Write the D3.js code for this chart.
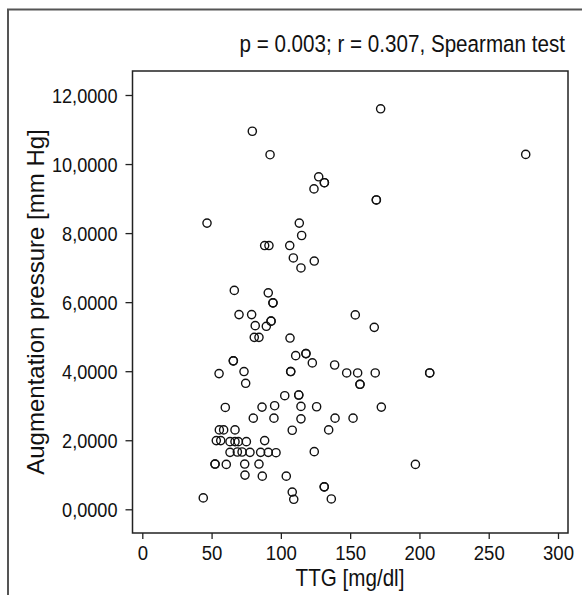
<!DOCTYPE html>
<html><head><meta charset="utf-8">
<script src="https://cdn.jsdelivr.net/npm/d3@7"></script>
<style>html,body{margin:0;padding:0;background:#fff;}svg{display:block;}</style>
</head><body>
<script>
// Data (TTG [mg/dl], Augmentation pressure [mm Hg])
const ttg = [79.4,92.2,172,276.7,127.3,131.4,131.4,123.9,168.9,168.9,46.7,113.3,115,88.3,91.4,106.4,109,124.1,114.5,
  66.4,90.9,94.3,94.3,69.8,78.9,153.7,81.5,89.5,92.9,92.9,167.4,80.8,84.2,106.6,65.7,65.7,110.7,118.1,118.1,122.7,138.8,
  55.4,73.4,74.6,107.1,107.1,147.5,155.4,168.1,207.4,207.4,157.1,157.1,102.8,112.9,112.9,59.9,86.4,95.5,114.5,125.8,172.5,
  80.1,95,114.5,139.1,152.1,55.6,58.7,66.9,108.2,134.5,53.4,56.6,63.3,66.9,69.3,75.1,88.3,63.3,68.6,72,77.7,85.4,90.9,96.5,124.1,
  52.5,52.5,60.6,73.9,84.2,197.1,74.1,86.6,103.9,131.3,131.3,108.2,109.3,44,136.4];
const augP = [10.95,10.27,11.60,10.28,9.63,9.46,9.46,9.28,8.96,8.96,8.29,8.29,7.93,7.64,7.64,7.64,7.28,7.19,6.99,
  6.34,6.27,5.98,5.98,5.64,5.64,5.63,5.32,5.30,5.45,5.45,5.27,4.98,4.98,4.96,4.30,4.30,4.45,4.51,4.51,4.24,4.18,
  3.93,3.99,3.65,3.99,3.99,3.95,3.95,3.95,3.95,3.95,3.62,3.62,3.29,3.31,3.31,2.95,2.96,3.00,2.98,2.97,2.96,
  2.64,2.64,2.62,2.64,2.64,2.30,2.30,2.30,2.29,2.30,1.99,1.99,1.96,1.96,1.96,1.96,1.99,1.65,1.66,1.66,1.65,1.65,1.65,1.64,1.67,
  1.31,1.31,1.30,1.31,1.31,1.30,0.99,0.96,0.96,0.65,0.65,0.50,0.29,0.33,0.30];
const xTicks = [0,50,100,150,200,250,300];
const yTicks = [0,2,4,6,8,10,12];
const yTickLabels = ["0,0000","2,0000","4,0000","6,0000","8,0000","10,0000","12,0000"];
const title = "p = 0.003; r = 0.307, Spearman test";
const xTitle = "TTG [mg/dl]";
const yTitle = "Augmentation pressure [mm Hg]";

const W = 582, H = 595;
const font = "'Liberation Sans',Arial,Helvetica,sans-serif";
const K = 0.885; // horizontal condensing of the Helvetica-like face
const box = {left:132.5, right:568, top:71, bottom:533};

const svg = d3.select("body").append("svg").attr("width",W).attr("height",H);

// outer frame
svg.append("path").attr("d",`M8,${H} L8,9.5 L${W},9.5`).attr("fill","none").attr("stroke","#555").attr("stroke-width",2);

const x = d3.scaleLinear().domain([0,300]).range([142.3,558]);
const y = d3.scaleLinear().domain([0,12]).range([509.3,95]);

// plot box
svg.append("rect").attr("x",box.left).attr("y",box.top).attr("width",box.right-box.left).attr("height",box.bottom-box.top)
  .attr("fill","none").attr("stroke","#222").attr("stroke-width",1.5);

const xAxis = svg.append("g").attr("transform",`translate(0,${box.bottom})`)
  .call(d3.axisBottom(x).tickValues(xTicks).tickSize(6).tickFormat(d3.format("d")));
xAxis.select(".domain").remove();
xAxis.selectAll(".tick text").attr("y",27.5).attr("dy",null)
  .attr("font-size",21).attr("transform",`scale(${K},1)`);

const yAxis = svg.append("g").attr("transform",`translate(${box.left},0)`)
  .call(d3.axisLeft(y).tickValues(yTicks).tickSize(7).tickFormat((d,i)=>yTickLabels[i]));
yAxis.select(".domain").remove();
yAxis.selectAll(".tick text").attr("x",-15/K).attr("dy","0.36em")
  .attr("font-size",20.5).attr("transform",`scale(${K},1)`);

svg.selectAll(".tick line").attr("stroke","#222").attr("stroke-width",1.3);
svg.selectAll(".tick text").attr("font-family",font).attr("fill","#111");

// points
svg.append("g").selectAll("circle").data(ttg.map((v,i)=>[v,augP[i]])).join("circle")
  .attr("cx",d=>x(d[0])).attr("cy",d=>y(d[1])).attr("r",4.1)
  .attr("fill","none").attr("stroke","#111").attr("stroke-width",1.4);

// texts
function label(tx, ty, rot, anchor, size, str, k){
  svg.append("g").attr("transform",`translate(${tx},${ty}) rotate(${rot})`)
    .append("text").attr("transform",`scale(${k},1)`).attr("text-anchor",anchor)
    .attr("font-family",font).attr("font-size",size).attr("fill","#111").text(str);
}
label(565, 52, 0, "end", 23.3, title, K);
label(350, 586, 0, "middle", 23.3, xTitle, K);
label(44, 302, -90, "middle", 24, yTitle, 1);
</script>
</body></html>
